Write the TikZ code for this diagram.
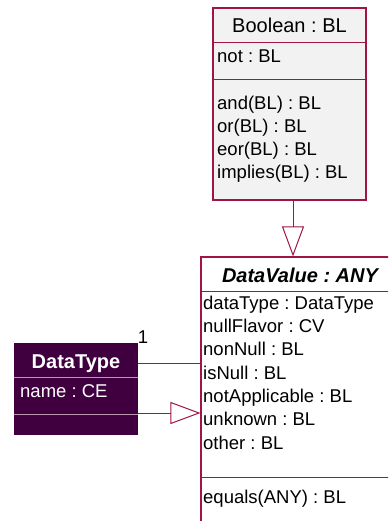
\documentclass[tikz,border=0pt]{standalone}
\usepackage{fontspec}
\setmainfont{Liberation Sans}
\usetikzlibrary{arrows.meta, positioning}
\definecolor{umlred}{RGB}{160,20,70}
\definecolor{umlgrey}{RGB}{242,242,242}
\definecolor{umlplum}{RGB}{64,0,64}
\definecolor{umlpink}{RGB}{190,150,180}
\tikzstyle{classbox} = [rectangle, draw=umlred, line width=1.1pt, inner sep=0pt]
\tikzstyle{title} = [font=\fontsize{20}{24}\selectfont, anchor=base, inner sep=0pt]
\tikzstyle{members} = [font=\fontsize{18.5}{23.3}\selectfont, align=left, anchor=base west, inner sep=0pt]
\tikzstyle{divider} = [draw=umlred, line width=1pt]
\tikzstyle{inherits} = [draw=umlred, line width=1pt, -{Triangle[open, length=30pt, width=22pt]}]
\tikzstyle{assoc} = [draw=umlred, line width=1pt]
\frenchspacing

\begin{document}
\begin{tikzpicture}[x=1pt, y=-1pt]
  \clip (0,0) rectangle (388,521);
  % Boolean
  \node (bool) [classbox, fill=umlgrey, minimum width=153pt, minimum height=192pt] at (289.5,104) {};
  \node (booltitle) [title] at (289.5,33) {Boolean : BL};
  \node (boolattr) [members] at (217,63) {not : BL};
  \node (boolops) [members] at (217,179) {and(BL) : BL\\or(BL) : BL\\eor(BL) : BL\\implies(BL) : BL};
  \draw [divider] ([yshift=-35pt]bool.north west) -- ([yshift=-35pt]bool.north east);
  \draw [divider] ([yshift=-72pt]bool.north west) -- ([yshift=-72pt]bool.north east);
  % DataValue
  \node (dv) [classbox, fill=white, minimum width=199pt, minimum height=288pt] at (300.5,401) {};
  \node (dvtitle) [title] at (300,282) {\bfseries\itshape DataValue : ANY};
  \node (dvattr) [members] at (203,449) {dataType : DataType\\nullFlavor : CV\\nonNull : BL\\isNull : BL\\notApplicable : BL\\unknown : BL\\other : BL};
  \node (dvops) [members] at (203,503) {equals(ANY) : BL};
  \draw [divider] ([yshift=-35pt]dv.north west) -- ([yshift=-35pt]dv.north east);
  \draw [divider] ([yshift=-221pt]dv.north west) -- ([yshift=-221pt]dv.north east);
  % DataType
  \node (dt) [classbox, draw=umlplum, fill=umlplum, minimum width=122pt, minimum height=90pt] at (76,389) {};
  \node (dttitle) [title, text=white] at (76,368) {\bfseries DataType};
  \node (dtattr) [members, text=white] at (20,397) {name : CE};
  \draw [divider, draw=umlpink] ([yshift=-34pt]dt.north west) -- ([yshift=-34pt]dt.north east);
  \draw [divider, draw=umlpink] ([yshift=-71pt]dt.north west) -- ([yshift=-71pt]dt.north east);
  % connectors
  \draw [inherits] ([xshift=3.5pt]bool.south) -- ([xshift=3.5pt]bool.south |- dv.north);
  \draw [assoc] ([yshift=26pt]dt.east) -- ([yshift=26pt]dt.east -| dv.west);
  \draw [inherits] ([yshift=-24pt]dt.east) -- ([yshift=-24pt]dt.east -| dv.west);
  \node (mult) [title, font=\fontsize{18.5}{22}\selectfont] at (143,343) {1};
\end{tikzpicture}
\end{document}
